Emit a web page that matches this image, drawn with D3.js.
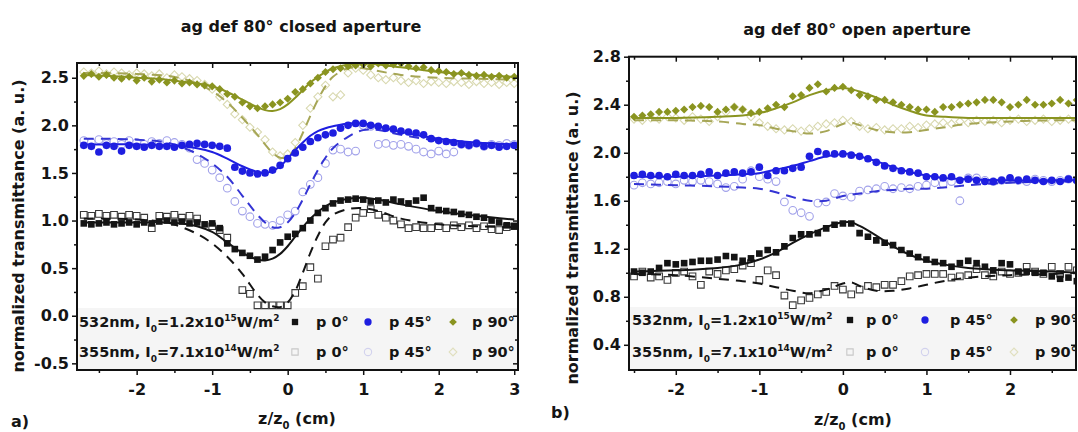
<!DOCTYPE html>
<html>
<head>
<meta charset="utf-8">
<script src="https://cdn.jsdelivr.net/npm/d3@7"></script>
<style>
  body { margin: 0; background: #fff; }
  svg text { font-family: "DejaVu Sans", "Liberation Sans", sans-serif; font-weight: bold; fill: #151515; }
</style>
</head>
<body>
<svg id="chart" width="1078" height="432"></svg>
<script>
// ---------- panel a) closed aperture ----------
const zClosed = [-2.7,-2.6,-2.5,-2.4,-2.3,-2.2,-2.1,-2.0,-1.9,-1.8,
  -1.7,-1.6,-1.5,-1.4,-1.3,-1.2,-1.1,-1.0,-0.9,-0.8,
  -0.7,-0.6,-0.5,-0.4,-0.3,-0.2,-0.1,0.0,0.1,0.2,
  0.3,0.4,0.5,0.6,0.7,0.8,0.9,1.0,1.1,1.2,
  1.3,1.4,1.5,1.6,1.7,1.8,1.9,2.0,2.1,2.2,
  2.3,2.4,2.5,2.6,2.7,2.8,2.9,3.0]

const closed532p0 = [0.97,0.96,0.97,0.98,0.96,0.97,0.98,0.96,0.98,0.97,
  0.99,1.00,0.98,0.99,0.97,0.98,0.96,0.97,0.92,0.76,
  0.70,0.66,0.63,0.59,0.62,0.69,0.77,0.83,0.86,0.92,
  1.00,1.08,1.13,1.18,1.21,1.22,1.23,1.22,1.20,1.21,
  1.19,1.22,1.20,1.18,1.21,1.24,1.13,1.11,1.10,1.09,
  1.07,1.06,1.04,1.03,1.00,0.98,0.95,0.94]
const closed355p0 = [1.06,1.05,1.07,1.05,1.06,1.04,1.06,1.05,1.03,0.92,
  1.05,1.04,1.06,1.03,1.05,1.02,null,0.94,0.90,0.82,
  null,0.27,0.23,0.11,0.11,0.11,0.11,0.11,0.24,0.31,
  0.51,0.39,0.73,0.80,0.82,0.93,1.03,1.08,1.12,1.06,
  1.03,1.00,0.96,0.92,0.93,0.92,0.92,0.94,0.92,0.95,
  0.93,0.95,0.92,0.94,0.91,0.90,0.93,0.94]
const closed532p45 = [1.79,1.78,1.72,1.79,1.78,1.73,1.79,1.78,1.77,1.79,
  1.78,1.78,1.77,1.79,1.80,1.81,1.80,1.79,1.78,1.76,
  1.56,1.52,1.50,1.49,1.50,1.53,1.58,1.65,1.71,1.77,
  1.83,1.87,1.90,1.92,1.97,2.00,2.02,2.02,2.00,1.99,
  1.97,1.96,1.94,1.93,1.92,1.90,1.86,1.84,1.83,1.82,
  1.80,1.79,1.81,1.78,1.79,1.77,1.78,1.79]
const closed355p45 = [1.84,1.82,1.85,1.81,1.83,1.80,1.84,1.82,1.80,1.83,
  1.81,1.84,1.82,1.80,1.76,1.64,1.60,1.53,1.45,1.34,
  1.20,1.10,1.04,0.97,0.96,0.95,1.00,1.06,1.10,1.30,
  1.38,1.45,1.60,1.74,1.75,1.72,1.73,2.00,1.99,1.80,
  1.81,1.79,1.80,1.78,1.75,1.72,1.70,1.73,1.70,1.72,
  1.80,1.79,1.81,1.78,1.80,1.79,1.81,1.80]
const closed532p90 = [2.52,2.54,2.51,2.53,2.50,2.49,2.51,2.47,2.50,2.46,
  2.48,2.45,2.47,2.44,2.45,2.43,2.42,2.41,2.38,2.33,
  2.30,2.24,2.20,2.18,2.20,2.22,2.24,2.28,2.35,2.38,
  2.44,2.50,2.56,2.59,2.60,2.62,2.63,2.64,2.62,2.65,
  2.63,2.64,2.65,2.62,2.60,2.61,2.58,2.57,2.56,2.54,
  2.55,2.53,2.52,2.53,2.51,2.52,2.50,2.51]
const closed355p90 = [2.56,2.55,2.57,2.54,2.56,2.55,2.53,2.55,2.54,2.52,
  2.54,2.50,2.53,2.51,2.49,2.47,2.43,2.38,2.30,2.22,
  2.12,2.06,1.98,1.93,1.85,1.72,1.68,1.70,1.82,2.00,
  2.18,2.30,2.42,2.30,2.32,2.55,2.60,2.58,2.53,2.50,
  2.48,2.50,2.47,2.45,2.47,2.44,2.46,2.45,2.44,2.46,
  2.45,2.43,2.46,2.44,2.45,2.43,2.45,2.44]

// fitted curves (a)
const zClosedFit = [-2.7,-2.4,-2.0,-1.6,-1.4,-1.2,-1.0,-0.8,-0.6,-0.4,-0.3,-0.2,-0.1,0.0,
  0.1,0.2,0.3,0.4,0.5,0.6,0.8,1.0,1.2,1.5,2.0,2.5,3.0]
const closedFit532p0 = [0.98,0.98,0.98,0.98,0.97,0.94,0.88,0.77,0.66,0.59,0.58,0.60,0.65,0.73,
  0.83,0.93,1.02,1.09,1.15,1.19,1.23,1.24,1.22,1.17,1.10,1.05,1.01]
const closedFit355p0 = [1.02,1.02,1.01,0.98,0.93,0.86,0.76,0.62,0.44,0.22,0.14,0.10,0.09,0.14,
  0.26,0.45,0.66,0.84,0.98,1.06,1.12,1.13,1.10,1.02,0.96,0.94,0.93]
const closedFit532p45 = [1.80,1.80,1.80,1.79,1.78,1.76,1.72,1.65,1.57,1.51,1.50,1.52,1.57,1.65,
  1.74,1.82,1.89,1.94,1.97,1.99,2.02,2.02,1.99,1.93,1.86,1.82,1.80]
const closedFit355p45 = [1.86,1.86,1.85,1.82,1.77,1.70,1.60,1.46,1.26,1.06,0.98,0.93,0.93,0.98,
  1.08,1.22,1.38,1.53,1.66,1.76,1.88,1.95,1.95,1.90,1.84,1.81,1.80]
const closedFit532p90 = [2.53,2.52,2.50,2.48,2.46,2.44,2.41,2.35,2.27,2.19,2.16,2.15,2.17,2.22,
  2.29,2.37,2.45,2.51,2.56,2.60,2.64,2.65,2.64,2.61,2.56,2.53,2.51]
const closedFit355p90 = [2.55,2.55,2.54,2.52,2.49,2.44,2.36,2.24,2.08,1.90,1.80,1.71,1.66,1.67,
  1.76,1.92,2.10,2.27,2.41,2.51,2.60,2.60,2.57,2.53,2.50,2.49,2.48]

// ---------- panel b) open aperture ----------
const zOpen = [-2.5,-2.4,-2.3,-2.2,-2.1,-2.0,-1.9,-1.8,-1.7,-1.6,
  -1.5,-1.4,-1.3,-1.2,-1.1,-1.0,-0.9,-0.8,-0.7,-0.6,
  -0.5,-0.4,-0.3,-0.2,-0.1,0.0,0.1,0.2,0.3,0.4,
  0.5,0.6,0.7,0.8,0.9,1.0,1.1,1.2,1.3,1.4,
  1.5,1.6,1.7,1.8,1.9,2.0,2.1,2.2,2.3,2.4,
  2.5,2.6,2.7,2.8]

const open532p0 = [1.01,1.00,1.01,1.04,1.08,1.07,1.08,1.09,1.10,1.10,
  1.11,1.14,1.13,1.10,1.12,1.16,1.19,1.17,1.22,1.29,
  1.32,1.32,1.33,1.37,1.40,1.41,1.41,1.33,1.30,1.27,
  1.25,1.23,1.19,1.16,1.13,1.11,1.09,1.08,1.05,1.08,
  1.10,1.08,1.05,1.02,1.08,1.07,1.01,1.01,1.00,1.00,
  0.97,0.95,0.96,0.93]
const open355p0 = [0.97,1.01,0.96,0.97,0.94,1.00,1.01,0.97,0.90,1.01,
  0.99,1.02,1.03,1.06,1.08,0.94,1.02,0.98,0.81,0.73,
  0.77,0.79,0.82,0.84,0.89,0.86,0.82,0.86,0.89,0.88,
  0.90,0.90,0.93,0.97,0.98,0.99,0.99,0.99,0.96,0.97,
  0.98,1.03,0.98,0.97,1.01,0.99,1.00,1.05,1.01,0.99,
  1.05,0.99,1.05,1.02]
const open532p45 = [1.81,1.82,1.81,1.81,1.80,1.82,1.81,1.81,1.82,1.84,
  1.81,1.83,1.84,1.83,1.84,1.88,1.81,1.85,1.85,1.87,
  1.88,1.97,2.01,1.99,1.99,1.99,1.98,1.97,1.95,1.92,
  1.89,1.87,1.85,1.84,1.83,1.80,1.80,1.79,1.80,1.77,
  1.78,1.77,1.76,1.76,1.77,1.79,1.77,1.78,1.77,1.76,
  1.77,1.76,1.78,1.77]
const open355p45 = [1.73,1.75,1.74,1.75,1.76,1.74,1.77,1.76,1.77,1.76,
  1.74,1.71,1.72,1.78,1.85,1.80,1.78,1.76,1.59,1.52,
  1.50,1.47,1.58,1.59,1.66,1.64,1.63,1.68,1.69,1.70,
  1.72,1.70,1.71,1.70,1.72,1.73,1.75,1.74,1.76,1.60,
  1.79,1.79,1.77,1.76,1.77,1.78,1.77,1.76,1.78,1.77,
  1.76,1.77,1.78,1.77]
const open532p90 = [2.30,2.31,2.32,2.34,2.34,2.35,2.36,2.38,2.39,2.38,
  2.34,2.36,2.38,2.36,2.33,2.34,2.37,2.40,2.38,2.47,
  2.48,2.54,2.57,2.51,2.54,2.55,2.52,2.48,2.47,2.44,
  2.44,2.42,2.40,2.38,2.36,2.36,2.34,2.38,2.38,2.40,
  2.41,2.42,2.44,2.44,2.42,2.38,2.40,2.44,2.40,2.40,
  2.41,2.44,2.41,2.44]
const open355p90 = [2.28,2.27,2.29,2.28,2.30,2.29,2.27,2.30,2.28,2.26,
  2.30,2.34,2.38,2.36,2.30,2.25,2.22,2.20,2.19,2.20,
  2.18,2.20,2.22,2.24,2.25,2.27,2.26,2.22,2.20,2.21,
  2.19,2.20,2.20,2.22,2.21,2.23,2.24,2.25,2.24,2.26,
  2.25,2.27,2.26,2.27,2.25,2.27,2.28,2.26,2.27,2.28,
  2.26,2.27,2.28,2.27]

// fitted curves (b)
const zOpenFit = [-2.5,-2.0,-1.5,-1.2,-1.0,-0.8,-0.6,-0.4,-0.2,0.0,0.1,0.2,0.4,0.6,0.8,1.0,1.2,1.5,2.0,2.5,2.8]
const openFit532p0 = [1.01,1.02,1.04,1.07,1.11,1.17,1.25,1.32,1.38,1.42,1.42,1.39,1.31,1.22,1.15,1.10,1.07,1.04,1.02,1.01,1.00]
const openFit355p0 = [0.99,0.98,0.95,0.93,0.91,0.88,0.85,0.83,0.86,0.91,0.92,0.89,0.85,0.85,0.87,0.90,0.93,0.96,0.98,0.99,1.00]
const openFit532p45 = [1.80,1.80,1.81,1.82,1.83,1.86,1.89,1.93,1.97,1.99,1.99,1.97,1.93,1.88,1.84,1.81,1.79,1.78,1.77,1.77,1.77]
const openFit355p45 = [1.74,1.73,1.72,1.71,1.70,1.67,1.63,1.60,1.60,1.64,1.65,1.66,1.68,1.69,1.70,1.70,1.71,1.73,1.75,1.76,1.76]
const openFit532p90 = [2.29,2.29,2.30,2.31,2.33,2.37,2.42,2.48,2.52,2.54,2.53,2.51,2.46,2.40,2.35,2.31,2.30,2.29,2.29,2.29,2.29]
const openFit355p90 = [2.27,2.27,2.26,2.24,2.23,2.20,2.18,2.16,2.18,2.24,2.25,2.23,2.19,2.17,2.17,2.19,2.21,2.24,2.26,2.27,2.27]

// legend text
const legendBeams = ['532nm', '355nm']
const legendCoef = ['1.2', '7.1']
const legendExp = ['15', '14']
const legendPol = ['p 0°', 'p 45°', 'p 90°']

// ---------- styles ----------
const black = '#141414', blue = '#1e1ee0', olive = '#8a9420'
// order: p0, p45, p90
const marks = [
  { shape: 'square', fill: black, stroke: 'none' },
  { shape: 'circle', fill: blue, stroke: 'none' },
  { shape: 'diamond', fill: olive, stroke: 'none' }
]
const openMarks = [
  { shape: 'square', fill: '#fff', stroke: '#3a3a3a' },
  { shape: 'circle', fill: '#fff', stroke: '#a2a2ea' },
  { shape: 'diamond', fill: '#fff', stroke: '#d9d9b0' }
]
const legendOpenMarks = [
  { shape: 'square', fill: 'none', stroke: '#c8c8c8' },
  { shape: 'circle', fill: 'none', stroke: '#d2d2ee' },
  { shape: 'diamond', fill: 'none', stroke: '#e0dfbe' }
]
const solidCols = [black, blue, olive]
const dashCols = [black, '#3434d4', '#a6a656']

const panels = [
  {
    id: 'a', title: 'ag def 80° closed aperture',
    xDomain: [-2.79, 3.05], xRange: [77, 518], yDomain: [-0.57, 2.655], yRange: [370, 63],
    xMajor: [-2, -1, 0, 1, 2, 3], xMinor: [-2.5, -1.5, -0.5, 0.5, 1.5, 2.5],
    yMajor: [-0.5, 0, 0.5, 1, 1.5, 2, 2.5], yMinor: [-0.25, 0.25, 0.75, 1.25, 1.75, 2.25],
    z: zClosed, filled: [closed532p0, closed532p45, closed532p90], open: [closed355p0, closed355p45, closed355p90],
    zFit: zClosedFit, solid: [closedFit532p0, closedFit532p45, closedFit532p90], dashed: [closedFit355p0, closedFit355p45, closedFit355p90],
    titleX: 301, titleY: 32, yLabX: 24, yLabY: 226, xLabX: 297, xLabY: 424, tag: 'a)', tagX: 11, tagY: 427,
    legX: 79, legY: [327, 357], legSym: [295, 368, 453], legTxt: [316, 389, 472], legBox: [78, 308, 440, 61]
  },
  {
    id: 'b', title: 'ag def 80° open aperture',
    xDomain: [-2.56, 2.79], xRange: [629, 1076], yDomain: [0.19, 2.8], yRange: [370, 56.7],
    xMajor: [-2, -1, 0, 1, 2], xMinor: [-2.5, -1.5, -0.5, 0.5, 1.5, 2.5],
    yMajor: [0.4, 0.8, 1.2, 1.6, 2.0, 2.4, 2.8], yMinor: [0.6, 1.0, 1.4, 1.8, 2.2, 2.6],
    z: zOpen, filled: [open532p0, open532p45, open532p90], open: [open355p0, open355p45, open355p90],
    zFit: zOpenFit, solid: [openFit532p0, openFit532p45, openFit532p90], dashed: [openFit355p0, openFit355p45, openFit355p90],
    titleX: 857, titleY: 35, yLabX: 578, yLabY: 238, xLabX: 853, xLabY: 425, tag: 'b)', tagX: 551, tagY: 418,
    legX: 632, legY: [325, 357], legSym: [850, 925, 1014], legTxt: [866, 950, 1035], legBox: [630, 307, 446, 62]
  }
]

const svg = d3.select('#chart')

function drawMark(sel, m, size) {
  if (m.shape === 'diamond') {
    sel.attr('d', d3.symbol(d3.symbolSquare, size * 0.75)())
  } else if (m.shape === 'circle') {
    sel.attr('d', d3.symbol(d3.symbolCircle, size * 1.05)())
  } else {
    sel.attr('d', d3.symbol(d3.symbolSquare, size)())
  }
  sel.attr('fill', m.fill).attr('stroke', m.stroke).attr('stroke-width', 1.1)
}

function markTransform(m, px, py) {
  return 'translate(' + px + ',' + py + ')' + (m.shape === 'diamond' ? ' rotate(45)' : '')
}

function styleAxis(g) {
  g.select('.domain').remove()
  g.selectAll('line').attr('stroke', '#111').attr('stroke-width', 1.5)
  g.selectAll('text').attr('font-size', 16).attr('font-family', '"DejaVu Sans", sans-serif')
    .attr('font-weight', 'bold').attr('fill', '#151515')
}

panels.forEach(function (p) {
  const x = d3.scaleLinear().domain(p.xDomain).range(p.xRange)
  const y = d3.scaleLinear().domain(p.yDomain).range(p.yRange)
  const left = p.xRange[0], right = p.xRange[1], top = p.yRange[1], bottom = p.yRange[0]
  const g = svg.append('g').attr('class', 'panel-' + p.id)

  svg.append('clipPath').attr('id', 'clip-' + p.id).append('rect')
    .attr('x', left).attr('y', top).attr('width', right - left).attr('height', bottom - top)

  // faint legend band
  g.append('rect').attr('x', p.legBox[0]).attr('y', p.legBox[1]).attr('width', p.legBox[2]).attr('height', p.legBox[3])
    .attr('fill', '#f5f5f5').attr('clip-path', 'url(#clip-' + p.id + ')')

  const plot = g.append('g').attr('clip-path', 'url(#clip-' + p.id + ')')
  const line = d3.line().x(d => x(d[0])).y(d => y(d[1])).curve(d3.curveCatmullRom)

  // open symbols (355 nm)
  p.open.forEach(function (vals, k) {
    const pts = p.z.map((z, i) => [z, vals[i]]).filter(d => d[1] != null)
    plot.append('g').selectAll('path').data(pts).enter().append('path')
      .each(function () { drawMark(d3.select(this), openMarks[k], 44) })
      .attr('transform', d => markTransform(openMarks[k], x(d[0]), y(d[1])))
  })

  // dashed fits (355 nm)
  p.dashed.forEach(function (vals, k) {
    plot.append('path').datum(p.zFit.map((z, i) => [z, vals[i]]))
      .attr('d', line).attr('fill', 'none').attr('stroke', dashCols[k])
      .attr('stroke-width', 2).attr('stroke-dasharray', '10,7')
  })

  // filled symbols (532 nm)
  p.filled.forEach(function (vals, k) {
    const pts = p.z.map((z, i) => [z, vals[i]]).filter(d => d[1] != null)
    plot.append('g').selectAll('path').data(pts).enter().append('path')
      .each(function () { drawMark(d3.select(this), marks[k], 44) })
      .attr('transform', d => markTransform(marks[k], x(d[0]), y(d[1])))
  })

  // solid fits (532 nm)
  p.solid.forEach(function (vals, k) {
    plot.append('path').datum(p.zFit.map((z, i) => [z, vals[i]]))
      .attr('d', line).attr('fill', 'none').attr('stroke', solidCols[k]).attr('stroke-width', 2)
  })

  // axes
  const xMinorIn = p.xMinor.filter(v => v > p.xDomain[0] && v < p.xDomain[1])
  g.append('g').attr('transform', 'translate(0,' + bottom + ')')
    .call(d3.axisBottom(x).tickValues(p.xMajor).tickSize(5).tickPadding(9).tickFormat(d => String(d)))
    .call(styleAxis)
  g.append('g').attr('transform', 'translate(0,' + bottom + ')')
    .call(d3.axisBottom(x).tickValues(xMinorIn).tickSize(3).tickFormat(''))
    .call(styleAxis)
  g.append('g').attr('transform', 'translate(0,' + top + ')')
    .call(d3.axisTop(x).tickValues(p.xMajor).tickSize(-5).tickFormat(''))
    .call(styleAxis)
  g.append('g').attr('transform', 'translate(0,' + top + ')')
    .call(d3.axisTop(x).tickValues(xMinorIn).tickSize(-3).tickFormat(''))
    .call(styleAxis)
  g.append('g').attr('transform', 'translate(' + left + ',0)')
    .call(d3.axisLeft(y).tickValues(p.yMajor).tickSize(5).tickPadding(3).tickFormat(d => d.toFixed(1)))
    .call(styleAxis)
  g.append('g').attr('transform', 'translate(' + left + ',0)')
    .call(d3.axisLeft(y).tickValues(p.yMinor).tickSize(3).tickFormat(''))
    .call(styleAxis)
  g.append('g').attr('transform', 'translate(' + right + ',0)')
    .call(d3.axisRight(y).tickValues(p.yMajor).tickSize(-5).tickFormat(''))
    .call(styleAxis)
  g.append('g').attr('transform', 'translate(' + right + ',0)')
    .call(d3.axisRight(y).tickValues(p.yMinor).tickSize(-3).tickFormat(''))
    .call(styleAxis)

  g.append('rect').attr('x', left).attr('y', top).attr('width', right - left).attr('height', bottom - top)
    .attr('fill', 'none').attr('stroke', '#111').attr('stroke-width', 2)

  // legend
  p.legY.forEach(function (ly, row) {
    const t = g.append('text').attr('x', p.legX).attr('y', ly).attr('font-size', 14.5)
    t.append('tspan').text(legendBeams[row] + ', I')
    t.append('tspan').attr('font-size', 9).attr('dy', 5).text('0')
    t.append('tspan').attr('dy', -5).text('=' + legendCoef[row] + 'x10')
    t.append('tspan').attr('font-size', 9).attr('dy', -6).text(legendExp[row])
    t.append('tspan').attr('dy', 6).text('W/m')
    t.append('tspan').attr('font-size', 9).attr('dy', -6).text('2')

    const set = row === 0 ? marks : legendOpenMarks
    legendPol.forEach(function (lab, k) {
      const m = set[k]
      const s = g.append('path')
      drawMark(s, m, 40)
      s.attr('transform', markTransform(m, p.legSym[k], ly - 5))
      g.append('text').attr('x', p.legTxt[k]).attr('y', ly).attr('font-size', 14.5).text(lab)
    })
  })

  // titles and labels
  g.append('text').attr('x', p.titleX).attr('y', p.titleY).attr('text-anchor', 'middle')
    .attr('font-size', 16).text(p.title)
  g.append('text').attr('transform', 'translate(' + p.yLabX + ',' + p.yLabY + ') rotate(-90)')
    .attr('text-anchor', 'middle').attr('font-size', 16).text('normalized transmittance (a. u.)')
  const xl = g.append('text').attr('x', p.xLabX).attr('y', p.xLabY).attr('text-anchor', 'middle').attr('font-size', 16)
  xl.append('tspan').text('z/z')
  xl.append('tspan').attr('font-size', 10).attr('dy', 5).text('0')
  xl.append('tspan').attr('dy', -5).text(' (cm)')
  g.append('text').attr('x', p.tagX).attr('y', p.tagY).attr('font-size', 16).text(p.tag)
})
</script>
</body>
</html>
